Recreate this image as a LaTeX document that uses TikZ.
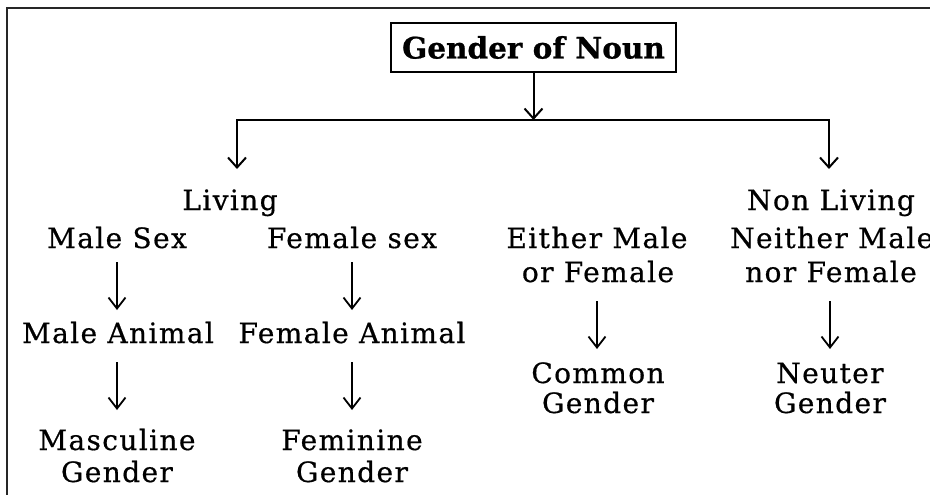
\documentclass[tikz,border=0pt]{standalone}
\usepackage{fontspec}
\setmainfont{DejaVu Serif}[LetterSpace=5,FakeBold=0.6]
\newfontfamily\titlefont{DejaVu Serif Bold}[FakeBold=0.8]
\usetikzlibrary{arrows.meta,calc}
\begin{document}
\begin{tikzpicture}[x=1pt,y=-1pt,
  lbl/.style={anchor=base,inner sep=0pt,font=\fontsize{28}{32}\selectfont},
  titlebox/.style={draw,line width=2.5pt,minimum width=285pt,minimum height=49pt,inner sep=0pt,font=\titlefont\fontsize{29.5}{33}\selectfont},
  link/.style={line width=2pt,-{Straight Barb[length=10pt,width=18pt]}},
  sarr/.style={line width=1.8pt,-{Straight Barb[length=11pt,width=17pt]}},
  frame/.style={line width=1.5pt,draw=black!85}
]
\useasboundingbox (0,0) rectangle (930,495);
\draw[frame] (932,8) -- (7,8) -- (7,497);

\node[titlebox] (title) at (533.5,47.5) {Gender of Noun};

\node[lbl] (living) at (230,210) {Living};
\node[lbl] (nonliving) at (831,210) {Non Living};
\node[lbl] (malesex) at (117,248) {Male Sex};
\node[lbl] (femalesex) at (352,248) {Female sex};
\node[lbl] (either1) at (597,248) {Either Male};
\node[lbl] (either2) at (598,282) {or Female};
\node[lbl,anchor=base west] (neither1) at (730,248) {Neither Male};
\node[lbl] (neither2) at (831,282) {nor Female};
\node[lbl] (maleanimal) at (118,343) {Male Animal};
\node[lbl] (femaleanimal) at (352,343) {Female Animal};
\node[lbl] (common1) at (598,383) {Common};
\node[lbl] (common2) at (598,413) {Gender};
\node[lbl] (neuter1) at (830,383) {Neuter};
\node[lbl] (neuter2) at (830,413) {Gender};
\node[lbl] (masc1) at (117,450) {Masculine};
\node[lbl] (masc2) at (117,482) {Gender};
\node[lbl] (fem1) at (352,450) {Feminine};
\node[lbl] (fem2) at (352,482) {Gender};

\coordinate (jm) at (533.5,120);
\coordinate (tl) at (237,169);
\coordinate (tr) at (829,169);
\draw[link] (title.south) -- (jm);
\draw[link] (jm) -| (tl);
\draw[link] (jm) -| (tr);

\draw[sarr] ($(malesex.base)+(0,14)$) -- ($(malesex.base |- maleanimal.base)+(0,-33)$);
\draw[sarr] ($(femalesex.base)+(0,14)$) -- ($(femalesex.base |- femaleanimal.base)+(0,-33)$);
\draw[sarr] ($(maleanimal.base)+(-1,19)$) -- ($(masc1.base)+(0,-40)$);
\draw[sarr] ($(femaleanimal.base)+(0,19)$) -- ($(fem1.base)+(0,-40)$);
\draw[sarr] ($(either2.base)+(-1,19)$) -- ($(common1.base)+(-1,-34)$);
\draw[sarr] ($(neither2.base)+(-1,19)$) -- ($(neuter1.base)+(0,-34)$);
\end{tikzpicture}
\end{document}
